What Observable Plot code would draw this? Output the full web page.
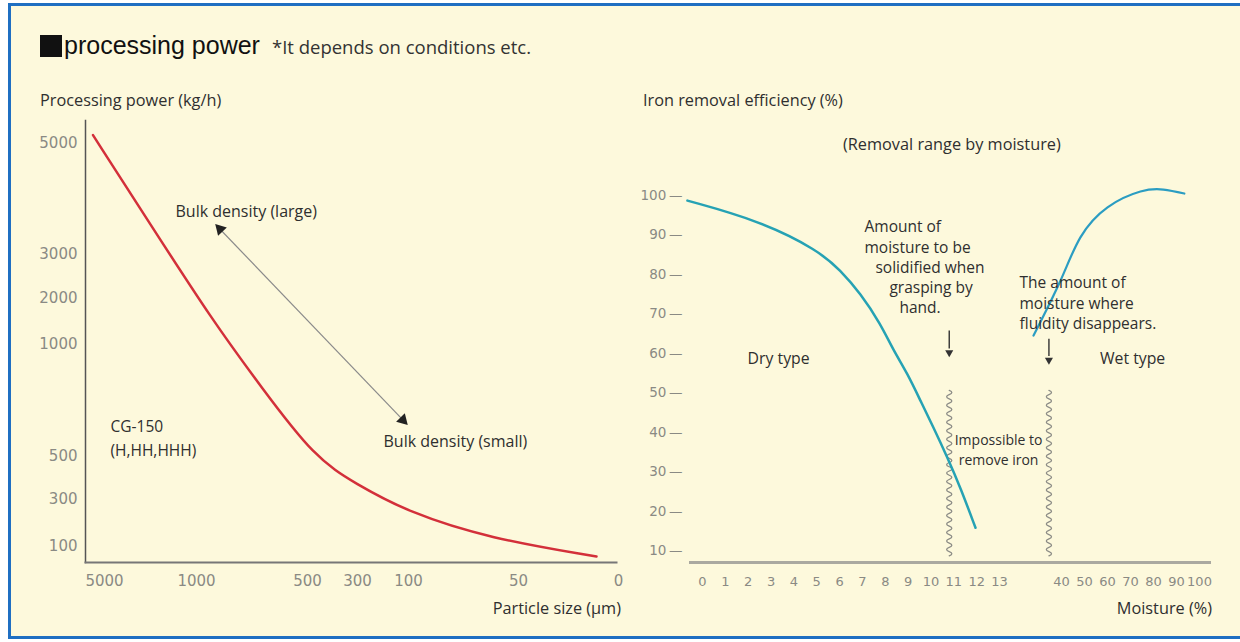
<!DOCTYPE html>
<html>
<head>
<meta charset="utf-8">
<script src="https://cdn.jsdelivr.net/npm/d3@7"></script>
<script src="https://cdn.jsdelivr.net/npm/@observablehq/plot@0.6"></script>
<style>
html,body{margin:0;padding:0;background:#ffffff;}
#page{position:relative;width:1240px;height:642px;overflow:hidden;background:#ffffff;}
#inner{position:absolute;left:8px;top:3px;width:1240px;height:636px;background:#fdf9dc;border:3px solid #1f6fc2;box-sizing:border-box;}
.t{position:absolute;white-space:nowrap;font-family:"Open Sans",sans-serif;color:#2f2f2f;line-height:20px;font-size:16.3px;}
#title{left:40px;top:30px;line-height:30px;font-family:"Liberation Sans",Arial,sans-serif;font-size:25px;color:#111;}
#title .sq{display:inline-block;width:22px;height:22px;background:#111;vertical-align:-3px;margin-right:2px;}
#title .sub{font-family:"Open Sans",sans-serif;font-size:18.5px;color:#333;margin-left:12px;}
.plot{position:absolute;top:0;}
</style>
</head>
<body>
<div id="page">
  <div id="inner"></div>
  <div id="title" class="t"><span class="sq"></span>processing power<span class="sub">*It depends on conditions etc.</span></div>
  <div class="t" style="left:40px;top:90px;">Processing power (kg/h)</div>
  <div class="t" style="right:619px;top:598px;">Particle size (μm)</div>
  <div class="t" style="left:643px;top:90px;">Iron removal efficiency (%)</div>
  <div class="t" style="left:843px;top:134px;">(Removal range by moisture)</div>
  <div class="t" style="right:28px;top:598px;">Moisture (%)</div>
  <div id="left" class="plot" style="left:0px;"></div>
  <div id="right" class="plot" style="left:620px;"></div>
</div>
<script>
// ---------- Left chart: processing power vs particle size ----------
const sizeTicks = [5000, 1000, 500, 300, 100, 50, 0];
const powerTicks = [5000, 3000, 2000, 1000, 500, 300, 100];
const particleSize = [5500, 3000, 928, 707, 472, 308, 100, 63, 11];
const processingPower = [5150, 3541, 1522, 808, 495, 374, 245, 134, 57];

// ---------- Right chart: iron removal efficiency vs moisture ----------
const moistureTicks = [0, 1, 2, 3, 4, 5, 6, 7, 8, 9, 10, 11, 12, 13, 40, 50, 60, 70, 80, 90, 100];
const efficiencyTicks = [10, 20, 30, 40, 50, 60, 70, 80, 90, 100];
const moistureDry = [-0.66, 2.45, 5.08, 6.04, 6.91, 7.79, 8.36, 8.97, 9.54, 10.11, 10.72, 11.29, 11.95];
const efficiencyDry = [98.7, 93.7, 86.1, 81.0, 75.2, 67.5, 60.7, 54.9, 48.0, 41.2, 33.6, 26.0, 15.8];
const moistureWet = [27.8, 39.5, 48.2, 60.0, 74.3, 84.3, 93.4];
const efficiencyWet = [64.5, 78.4, 89.4, 97.0, 101.0, 101.5, 100.5];
const limitMoisture = [10.8, 34.5];

const redCurve = particleSize.map((s, i) => ({size: s, power: processingPower[i]}));
const dryCurve = moistureDry.map((m, i) => ({moisture: m, eff: efficiencyDry[i]}));
const wetCurve = moistureWet.map((m, i) => ({moisture: m, eff: efficiencyWet[i]}));

// custom d3 curve that draws a wavy stroke between the first and last point
function wavy(context) {
  let pts = [];
  return {
    areaStart() {}, areaEnd() {},
    lineStart() { pts = []; },
    point(x, y) { pts.push([+x, +y]); },
    lineEnd() {
      if (pts.length < 2) return;
      const [x0, y0] = pts[0], [x1, y1] = pts[pts.length - 1];
      const dx = x1 - x0, dy = y1 - y0, len = Math.hypot(dx, dy);
      const ux = dx / len, uy = dy / len, nx = -uy, ny = ux;
      const half = 4.2, amp = 2.6;
      const n = Math.max(1, Math.round(len / half));
      context.moveTo(x0, y0);
      for (let i = 0; i < n; i++) {
        const s = (i % 2 ? 1 : -1) * amp * 2;
        const tm = (i + 0.5) / n * len, te = (i + 1) / n * len;
        context.quadraticCurveTo(x0 + ux * tm + nx * s, y0 + uy * tm + ny * s, x0 + ux * te, y0 + uy * te);
      }
    }
  };
}

const annoFont = "'Open Sans', sans-serif";
const tickFont = "'DejaVu Sans', sans-serif";

const left = Plot.plot({
  width: 630, height: 642,
  marginLeft: 85, marginRight: 14, marginTop: 120, marginBottom: 80,
  style: {background: "transparent", fontFamily: annoFont, overflow: "visible"},
  x: {type: "linear", domain: sizeTicks, range: [104, 196, 307, 357, 408, 518, 618], label: null},
  y: {type: "linear", domain: powerTicks, range: [143, 254, 298, 344, 456, 499, 546], label: null},
  marks: [
    Plot.frame({anchor: "left", stroke: "#555", strokeWidth: 1.5}),
    Plot.frame({anchor: "bottom", stroke: "#777", strokeWidth: 2}),
    Plot.axisX({ticks: sizeTicks, tickSize: 0, tickPadding: 13, fontSize: 15, fill: "#8a8a84",
      fontFamily: tickFont, tickFormat: d => String(d), label: null}),
    Plot.axisY({ticks: powerTicks, tickSize: 0, tickPadding: 8, fontSize: 15, fill: "#8a8a84",
      fontFamily: tickFont, tickFormat: d => String(d), label: null}),
    Plot.link([{a: 910, b: 3523, c: 108, d: 647}], {x1: "a", y1: "b", x2: "c", y2: "d", stroke: "#8a8a8a", strokeWidth: 1.2}),
    Plot.dot([{x: 894, y: 3458, r: -44}, {x: 122, y: 663, r: 136}], {x: "x", y: "y", rotate: "r", symbol: "triangle", r: 4.5, fill: "#222", stroke: "none"}),
    Plot.line(redCurve, {x: "size", y: "power", stroke: "#d3303a", strokeWidth: 2.5, curve: "basis"}),
    Plot.text([{x: 1913, y: 3775, t: "Bulk density (large)"}, {x: 198, y: 567, t: "Bulk density (small)"}],
      {x: "x", y: "y", text: "t", textAnchor: "start", fontSize: 16, fill: "#2f2f2f"}),
    Plot.text([{x: 4739, y: 630, t: "CG-150"}, {x: 4739, y: 525, t: "(H,HH,HHH)"}],
      {x: "x", y: "y", text: "t", textAnchor: "start", fontSize: 15.5, fill: "#2f2f2f"})
  ]
});
document.getElementById("left").appendChild(left);

const right = Plot.plot({
  width: 620, height: 642,
  marginLeft: 70, marginRight: 31, marginTop: 180, marginBottom: 80,
  style: {background: "transparent", fontFamily: annoFont, overflow: "visible"},
  x: {type: "linear", domain: [0, 13, 100], range: [82, 379, 579], label: null},
  y: {type: "linear", domain: [7, 100], range: [562, 195], label: null},
  marks: [
    Plot.frame({anchor: "bottom", stroke: "#aaa9a0", strokeWidth: 3}),
    Plot.axisX({ticks: moistureTicks, tickSize: 0, tickPadding: 14, fontSize: 13, fill: "#8a8a84",
      fontFamily: tickFont, tickFormat: d => String(d), label: null}),
    Plot.axisY({ticks: efficiencyTicks, tickSize: 0, tickPadding: 8, fontSize: 13.5, fill: "#8a8a84",
      fontFamily: tickFont, tickFormat: d => d + "\u2009—", label: null}),
    Plot.line(limitMoisture.flatMap(m => [{m, e: 50.6}, {m, e: 8.7}]), {x: "m", y: "e", z: "m", stroke: "#8c8c86", strokeWidth: 1.3, curve: wavy}),
    Plot.link([{m: 10.8, a: 65.8, b: 61.2}, {m: 34.5, a: 63.7, b: 59.3}], {x1: "m", x2: "m", y1: "a", y2: "b", stroke: "#333", strokeWidth: 1.4}),
    Plot.dot([{m: 10.8, e: 60.2}, {m: 34.5, e: 58.3}], {x: "m", y: "e", symbol: "triangle", rotate: 180, r: 3, fill: "#333", stroke: "none"}),
    Plot.line(dryCurve, {x: "moisture", y: "eff", stroke: "#26a2b4", strokeWidth: 2.5, curve: "basis"}),
    Plot.line(wetCurve, {x: "moisture", y: "eff", stroke: "#2b9dc2", strokeWidth: 2.2, curve: "natural"}),
    Plot.text([
      {x: 7.09, y: 91.9, t: "Amount of"},
      {x: 7.09, y: 86.8, t: "moisture to be"},
      {x: 7.57, y: 81.7, t: "solidified when"},
      {x: 8.18, y: 76.6, t: "grasping by"},
      {x: 8.62, y: 71.5, t: "hand."},
      {x: 21.7, y: 77.7, t: "The amount of"},
      {x: 21.7, y: 72.6, t: "moisture where"},
      {x: 21.7, y: 67.5, t: "fluidity disappears."}
    ], {x: "x", y: "y", text: "t", textAnchor: "start", fontSize: 15.5, fill: "#2f2f2f"}),
    Plot.text([{x: 3.33, y: 58.7, t: "Dry type"}, {x: 70.9, y: 58.7, t: "Wet type"}],
      {x: "x", y: "y", text: "t", textAnchor: "middle", fontSize: 15.8, fill: "#2f2f2f"}),
    Plot.text([{x: 12.96, y: 37.9, t: "Impossible to"}, {x: 12.96, y: 32.8, t: "remove iron"}],
      {x: "x", y: "y", text: "t", textAnchor: "middle", fontSize: 14, fill: "#2f2f2f"})
  ]
});
document.getElementById("right").appendChild(right);
</script>
</body>
</html>
